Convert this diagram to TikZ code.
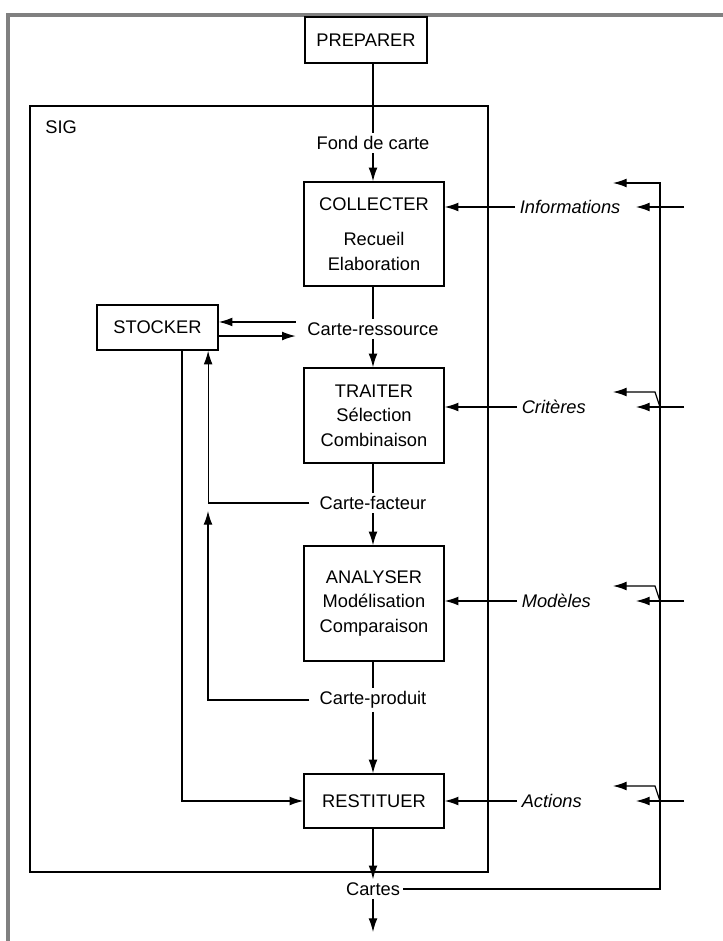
\documentclass[tikz,border=0pt]{standalone}
\usepackage{fontspec}
\setmainfont{Liberation Sans}
\usetikzlibrary{arrows.meta}
\tikzset{>={Latex[length=3.4mm,width=2.2mm]},
         block/.style={draw,line width=1.1pt,minimum width=3.5cm,align=center,font=\fontsize{13}{17.5}\selectfont},
         flux/.style={inner sep=2pt,font=\fontsize{13}{15}\selectfont},
         entree/.style={inner sep=3pt,anchor=west,font=\fontsize{13}{15}\selectfont\itshape},
        }

\begin{document}
\begin{tikzpicture}[x=0.025cm,y=-0.025cm,line width=0.8pt]
        \useasboundingbox(0,0)rectangle(723,941);
        \draw[gray,line width=2.8pt](8,945)--(8,15)--(727,15);

        \node[block,minimum width=3.05cm,minimum height=1.15cm](prep)at(366,40){PREPARER};
        \node[draw,line width=1.1pt,minimum width=11.45cm,minimum height=19.15cm](sig)at(259,489){};
        \node[flux,anchor=west](siglbl)at(42,127){SIG};
        \node[flux](fond)at(373,143){Fond de carte};
        \node[block,minimum height=2.6cm](col)at(374,234){COLLECTER\\[8pt]Recueil\\Elaboration};
        \node[flux](res)at(373,329){Carte-ressource};
        \node[block,minimum width=3.025cm,minimum height=1.125cm](sto)at(157.5,327.5){STOCKER};
        \node[block,minimum height=2.375cm](trai)at(374,415.5){TRAITER\\Sélection\\Combinaison};
        \node[flux](fac)at(373,503){Carte-facteur};
        \node[block,minimum height=2.875cm](ana)at(374,603.5){ANALYSER\\Modélisation\\Comparaison};
        \node[flux](prod)at(373,700){Carte-produit};
        \node[block,minimum height=1.35cm](rest)at(374,801){RESTITUER};
        \node[flux](cartes)at(373,889){Cartes};
        \node[entree](info)at(515,207){Informations};
        \node[entree](crit)at(517,407){Critères};
        \node[entree](mod)at(517,601){Modèles};
        \node[entree](act)at(517,801){Actions};

        \draw(fond|-prep.south)--(fond.north);
        \draw[->](fond.south)--(fond|-col.north);
        \draw(fond|-col.south)--(res.north);
        \draw[->](res.south)--(res|-trai.north);
        \draw(res|-trai.south)--(fac.north);
        \draw[->](fac.south)--(fac|-ana.north);
        \draw(fac|-ana.south)--(prod.north);
        \draw[->](prod.south)--(prod|-rest.north);
        \draw[->](prod|-rest.south)--(cartes.north);
        \coordinate(fin)at(373,932);
        \draw[->](cartes.south)--(fin);

        \coordinate(r1)at([xshift=-6pt,yshift=5pt]res.west);
        \coordinate(r2)at([xshift=-6pt,yshift=-5pt]res.west);
        \draw[->](r1)--(r1-|sto.east);
        \draw[->](r2-|sto.east)--(r2);
        \coordinate(su)at([xshift=36pt]sto.south);
        \coordinate(pu)at(208,511);
        \draw[->]([xshift=-5pt]fac.west)-|(su);
        \draw[->]([xshift=-5pt]prod.west)-|(pu);
        \draw[->]([xshift=17.4pt]sto.south)|-(rest.west);

        \coordinate(fb)at(660,183);
        \coordinate(fbe)at(613,183);
        \draw[->](cartes.east)-|(fb)--(fbe);
        \foreach \n/\y in {info/207,crit/407,mod/601,act/801}{
          \draw[->](\n.west)--(\n.west-|col.east);
          \draw[->](684,\y)--(636,\y);
          \fill(660,\y)circle(1.1pt);
        }
        \foreach \y in {407,601,801}
          \draw[->](660,\y)--(655,{\y-15})--(613,{\y-15});
    \end{tikzpicture}
\end{document}
